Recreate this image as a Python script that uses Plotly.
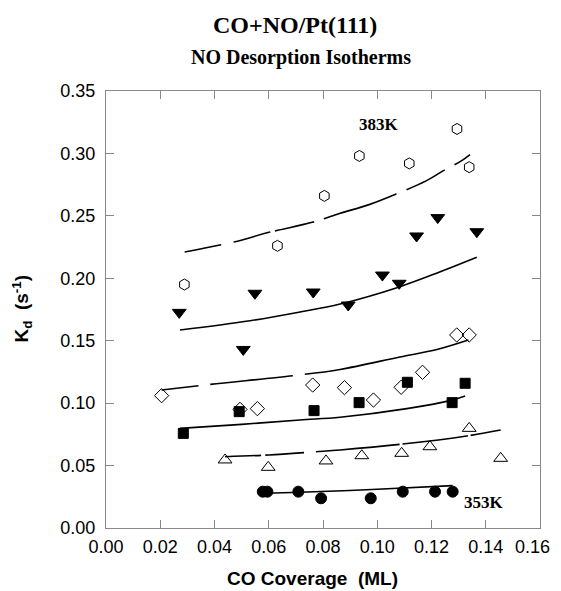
import plotly.graph_objects as go

# ---- data ----
x_383 = [0.0289, 0.0632, 0.0805, 0.0934, 0.1118, 0.1294, 0.1339]
y_383 = [0.195, 0.226, 0.266, 0.298, 0.292, 0.3196, 0.289]
fx_383 = [0.029, 0.047, 0.0605, 0.0764, 0.0863, 0.097, 0.107, 0.118, 0.125, 0.131, 0.1342]
fy_383 = [0.221, 0.229, 0.237, 0.245, 0.252, 0.259, 0.2675, 0.278, 0.287, 0.294, 0.299]

x_tdn = [0.027, 0.0506, 0.0549, 0.0764, 0.0893, 0.1019, 0.1081, 0.1145, 0.1223, 0.1367]
y_tdn = [0.1727, 0.143, 0.188, 0.189, 0.1786, 0.2026, 0.196, 0.2339, 0.2486, 0.2373]
fx_tdn = [0.0273, 0.0531, 0.0715, 0.0863, 0.1084, 0.123, 0.1367]
fy_tdn = [0.1586, 0.166, 0.173, 0.1794, 0.1933, 0.205, 0.2168]

x_dia = [0.0205, 0.0494, 0.0558, 0.0762, 0.0879, 0.0986, 0.1088, 0.1167, 0.1293, 0.1339]
y_dia = [0.106, 0.095, 0.0956, 0.1145, 0.1124, 0.1025, 0.1127, 0.1247, 0.1546, 0.1546]
fx_dia = [0.0205, 0.0383, 0.069, 0.0863, 0.1084, 0.122, 0.1336]
fy_dia = [0.1105, 0.115, 0.122, 0.127, 0.137, 0.143, 0.1506]

x_sq = [0.0285, 0.0491, 0.0767, 0.0933, 0.1111, 0.1276, 0.1324]
y_sq = [0.0758, 0.0932, 0.094, 0.1004, 0.1167, 0.1004, 0.1159]
fx_sq = [0.0273, 0.05, 0.0715, 0.0863, 0.1109, 0.1268, 0.1324]
fy_sq = [0.0798, 0.083, 0.0865, 0.0887, 0.0956, 0.102, 0.1057]

x_tup = [0.0439, 0.0598, 0.0811, 0.0943, 0.109, 0.1194, 0.1339, 0.1455]
y_tup = [0.0545, 0.0486, 0.0537, 0.0579, 0.0598, 0.0651, 0.0798, 0.0558]
fx_tup = [0.0439, 0.0600, 0.0774, 0.0863, 0.1084, 0.133, 0.1455]
fy_tup = [0.0571, 0.0585, 0.0611, 0.0625, 0.067, 0.0737, 0.0785]

x_353 = [0.0578, 0.0595, 0.0709, 0.0793, 0.0976, 0.1094, 0.1213, 0.1278]
y_353 = [0.0291, 0.0291, 0.0291, 0.0238, 0.0238, 0.0291, 0.0291, 0.0291]
fx_353 = [0.059, 0.0715, 0.1, 0.1278]
fy_353 = [0.0278, 0.0286, 0.031, 0.0339]

x_ticks = [0.00, 0.02, 0.04, 0.06, 0.08, 0.10, 0.12, 0.14, 0.16]
y_ticks = [0.00, 0.05, 0.10, 0.15, 0.20, 0.25, 0.30, 0.35]

fig = go.Figure()

def fit(x, y, dash):
    fig.add_trace(go.Scatter(x=x, y=y, mode="lines",
                             line=dict(color="black", width=1.6, dash=dash, shape="spline"),
                             hoverinfo="skip", showlegend=False))

def pts(x, y, symbol, size, filled):
    if filled:
        m = dict(symbol=symbol, size=size, color="black", line=dict(color="black", width=1))
    else:
        m = dict(symbol=symbol, size=size, color="black", line=dict(width=1))
    fig.add_trace(go.Scatter(x=x, y=y, mode="markers", marker=m, showlegend=False))

fit(fx_383, fy_383, "37px,13px,38px,5px,40px,10px,77px,11px,43px,11px,30px")
fit(fx_tdn, fy_tdn, "solid")
fit(fx_dia, fy_dia, "37px,12px,83px,12px,400px")
fit(fx_sq, fy_sq, "solid")
fit(fx_tup, fy_tup, "36px,4px,39px,12px,84px,3px,66px,3px,60px")
fit(fx_353, fy_353, "solid")

pts(x_383, y_383, "hexagon-open", 11, False)
pts(x_tdn, y_tdn, "triangle-down", 12, True)
pts(x_sq, y_sq, "square", 10, True)
pts(x_dia, y_dia, "diamond-open", 11, False)
pts(x_tup, y_tup, "triangle-up-open", 12, False)
pts(x_353, y_353, "circle", 11, True)

tick_font = dict(family="Arial", size=18, color="black")
axis_common = dict(showline=True, linecolor="#888888", linewidth=1, mirror="ticks",
                   ticks="inside", ticklen=8, tickcolor="#888888", showgrid=False,
                   zeroline=False, tickfont=tick_font)

# last x label would overflow the page edge; it is drawn as an annotation instead
x_text = [f"{v:.2f}" for v in x_ticks]
fig.update_xaxes(range=[0, 0.16], tickvals=x_ticks, ticklabelstandoff=2,
                 ticktext=x_text[:-1] + [""], **axis_common)
fig.update_yaxes(range=[0, 0.35], tickvals=y_ticks, ticklabelstandoff=6,
                 ticktext=[f"{v:.2f}" for v in y_ticks], **axis_common)
fig.add_annotation(x=x_ticks[-1], y=y_ticks[0], xref="x", yref="y", text=x_text[-1],
                   showarrow=False, xanchor="right", yanchor="middle", xshift=12, yshift=-19,
                   font=tick_font)

# plot area in page pixels: x 106..540, y 91..528 (page has 8px body margin)
ann = [
    dict(text="<b>CO+NO/Pt(111)</b>", x=(295 - 106) / 434, y=1 + (91 - 25) / 437,
         font=dict(family="Liberation Serif", size=24, color="black")),
    dict(text="<b>NO Desorption Isotherms</b>", x=(301 - 106) / 434, y=1 + (91 - 57) / 437,
         font=dict(family="Liberation Serif", size=20, color="black")),
    dict(text="<b>CO Coverage  (ML)</b>", x=(312 - 106) / 434, y=-(578 - 528) / 437,
         font=dict(family="Arial", size=19, color="black")),
    dict(text="<b>K<sub>d</sub>  (s<sup>-1</sup>)</b>", x=(22 - 106) / 434, y=0.5, textangle=-90,
         font=dict(family="Arial", size=19, color="black")),
]
for a in ann:
    fig.add_annotation(xref="paper", yref="paper", showarrow=False,
                       xanchor="center", yanchor="middle", **a)

fig.add_annotation(x=0.1008, y=0.3228, xref="x", yref="y", text="<b>383K</b>", showarrow=False,
                   font=dict(family="Liberation Serif", size=17, color="black"))
fig.add_annotation(x=0.1394, y=0.0203, xref="x", yref="y", text="<b>353K</b>", showarrow=False,
                   font=dict(family="Liberation Serif", size=17, color="black"))

fig.update_layout(width=545, height=583, margin=dict(l=98, r=13, t=83, b=63),
                  paper_bgcolor="white", plot_bgcolor="white", showlegend=False)

fig.write_html("out.html")
